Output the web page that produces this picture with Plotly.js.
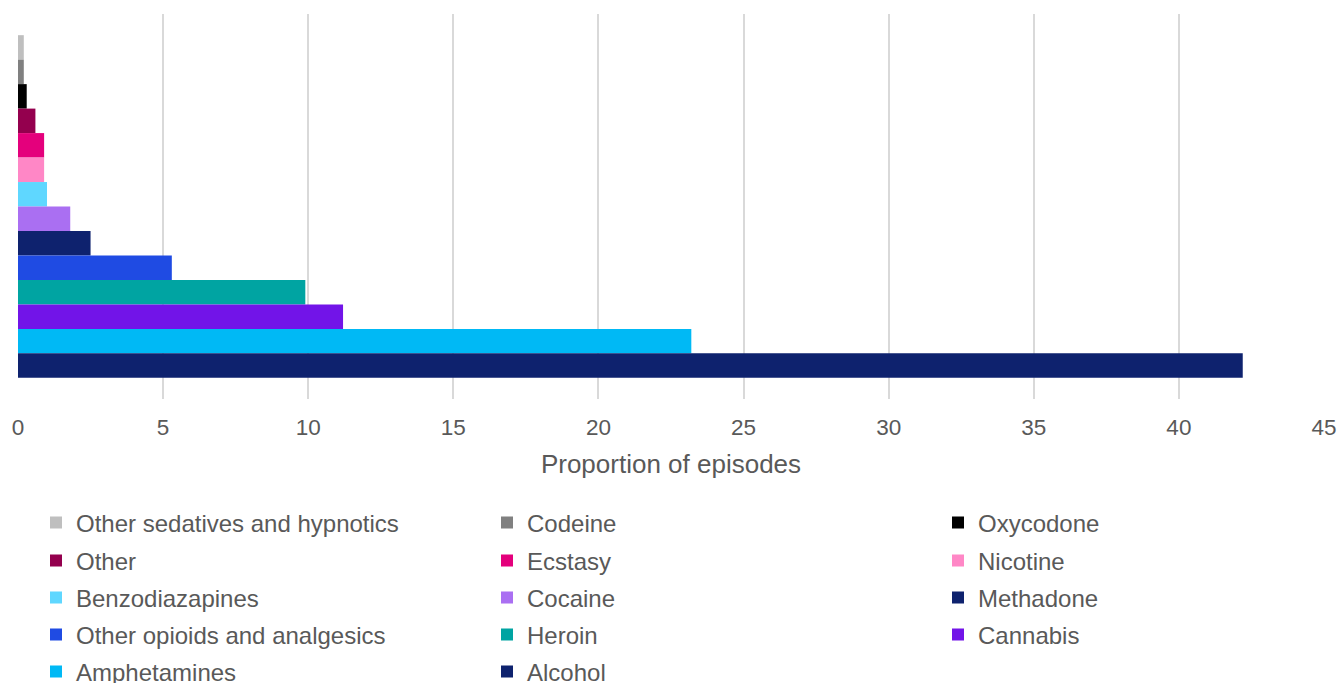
<!DOCTYPE html>
<html><head><meta charset="utf-8">
<script src="https://cdn.plot.ly/plotly-3.0.1.min.js"></script>
<style>html,body{margin:0;padding:0;background:#fff}#chart{width:1338px;height:683px}</style>
</head><body><div id="chart"></div>
<script>
const categories = [''];
const drugs = ['Other sedatives and hypnotics','Codeine','Oxycodone','Other','Ecstasy','Nicotine','Benzodiazapines','Cocaine','Methadone','Other opioids and analgesics','Heroin','Cannabis','Amphetamines','Alcohol'];
const proportions = [0.2,0.2,0.3,0.6,0.9,0.9,1.0,1.8,2.5,5.3,9.9,11.2,23.2,42.2];
const colors = ['#BFBFBF','#808080','#000000','#94004E','#E4007C','#FF87C6','#5FD7FF','#AA6FF2','#0E226E','#1F4BE3','#00A4A2','#7214E8','#00B9F5','#0E226E'];
const xTickValues = [0,5,10,15,20,25,30,35,40,45];
const xTitle = 'Proportion of episodes';

const FONT = 'Liberation Sans, Arial, sans-serif';
const GREY = '#595959';
const legendColumnX = [36, 487, 938];
const legendRowY = [523, 561, 598, 635, 672];

const legendKey = i => i === 0 ? 'legend' : 'legend' + (i + 1);

const traces = drugs.map((name, i) => ({
  type: 'bar', orientation: 'h', name: name,
  y: categories, x: [proportions[i]],
  marker: {color: colors[i], line: {width: 0}},
  legend: legendKey(i),
  hovertemplate: name + ': %{x}<extra></extra>'
}));

const layout = {
  width: 1338, height: 683,
  margin: {l: 18, r: 14, t: 14, b: 284},
  paper_bgcolor: '#fff', plot_bgcolor: '#fff',
  barmode: 'group', bargap: 0.11, bargroupgap: 0,
  font: {family: FONT, color: GREY},
  xaxis: {
    range: [0, 45], tickvals: xTickValues, ticktext: xTickValues.map(String),
    showgrid: true, gridcolor: '#d9d9d9', gridwidth: 2,
    zeroline: false, showline: false, ticks: '', ticklabelstandoff: 12,
    tickfont: {family: FONT, size: 22.5, color: GREY},
    title: {text: xTitle, font: {family: FONT, size: 26, color: GREY}, standoff: 16},
    automargin: false, fixedrange: true
  },
  yaxis: {
    autorange: 'reversed', showticklabels: false, showgrid: false, zeroline: false,
    showline: false, ticks: '', automargin: false, fixedrange: true
  },
  showlegend: true
};

drugs.forEach((name, i) => {
  const col = i % 3, row = Math.floor(i / 3);
  layout[legendKey(i)] = {
    orientation: 'h', xref: 'container', yref: 'container',
    x: legendColumnX[col] / 1338, y: 1 - legendRowY[row] / 683,
    xanchor: 'left', yanchor: 'middle',
    font: {family: FONT, size: 24, color: GREY},
    bgcolor: 'rgba(0,0,0,0)', borderwidth: 0
  };
});

Plotly.newPlot('chart', traces, layout, {displayModeBar: false, staticPlot: true});
</script>
</body></html>
